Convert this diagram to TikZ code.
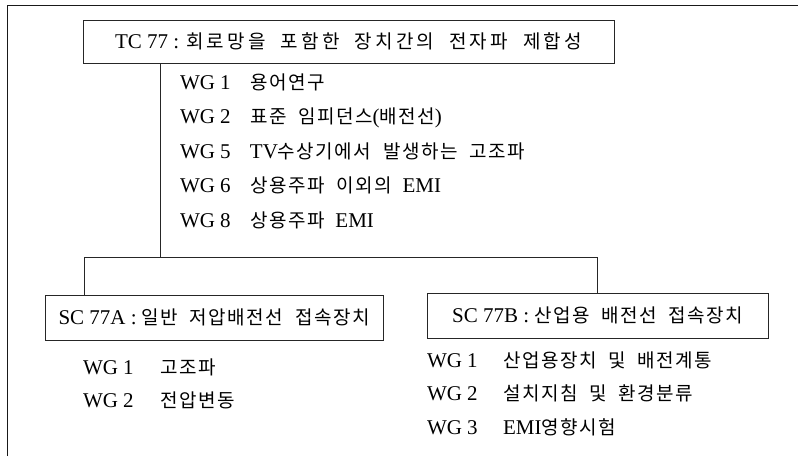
\documentclass[tikz,border=0pt]{standalone}
\usepackage{fontspec}
\setmainfont{Liberation Serif}
\newfontfamily\krfont[WordSpace=2,LetterSpace=8]{Noto Sans CJK KR}
\newfontfamily\krwide[WordSpace=2,LetterSpace=17]{Noto Sans CJK KR}
\newcommand\K[1]{{\krfont\fontsize{19}{22}\selectfont #1}}
\newcommand\KW[1]{{\krwide\fontsize{19}{22}\selectfont #1}}
\begin{document}
\begin{tikzpicture}[x=1pt,y=-1pt,
  every node/.style={inner sep=0pt,outer sep=0pt,font=\fontsize{21}{23}\selectfont},
  boxnode/.style={draw=black!85,line width=0.9pt,anchor=center},
  item/.style={anchor=base west},
  conn/.style={draw=black!85,line width=0.9pt},
  frame/.style={draw=black!90,line width=1.4pt}]
\useasboundingbox (0,0) rectangle (798,456);
\draw[frame] (7.5,456) -- (7.5,5.5) -- (798,5.5);
\node[boxnode,minimum width=531pt,minimum height=43pt] (tc) at (348.5,41.5)
  {TC 77 : \KW{회로망을 포함한 장치간의 전자파 제합성}\hspace{8pt}};
\node[item] (w1) at (180,89) {\makebox[70pt][l]{WG 1}\K{용어연구}};
\node[item] (w2) at (180,123.5) {\makebox[70pt][l]{WG 2}\K{표준 임피던스}(\K{배전선})};
\node[item] (w5) at (180,158) {\makebox[70pt][l]{WG 5}TV\K{수상기에서 발생하는 고조파}};
\node[item] (w6) at (180,192.5) {\makebox[70pt][l]{WG 6}\K{상용주파 이외의}\hspace{11pt}EMI};
\node[item] (w8) at (180,227) {\makebox[70pt][l]{WG 8}\K{상용주파}\hspace{11pt}EMI};
\node[boxnode,minimum width=338pt,minimum height=45pt] (sca) at (214,317.5)
  {SC 77A : \K{일반 저압배전선 접속장치}};
\node[boxnode,minimum width=341pt,minimum height=45pt] (scb) at (597.5,315.5)
  {SC 77B : \K{산업용 배전선 접속장치}};
\node[item] (a1) at (83,374) {\makebox[77pt][l]{WG 1}\K{고조파}};
\node[item] (a2) at (83,407) {\makebox[77pt][l]{WG 2}\K{전압변동}};
\node[item] (b1) at (427,367) {\makebox[76pt][l]{WG 1}\K{산업용장치 및 배전계통}};
\node[item] (b2) at (427,400) {\makebox[76pt][l]{WG 2}\K{설치지침 및 환경분류}};
\node[item] (b3) at (427,434) {\makebox[76pt][l]{WG 3}EMI\K{영향시험}};
\coordinate (jt) at (160,257);
\coordinate (ja) at (84,257);
\coordinate (jb) at (597,257);
\draw[conn] (tc.south -| jt) -- (jt);
\draw[conn] (sca.north -| ja) -- (ja) -- (jb) -- (scb.north -| jb);
\end{tikzpicture}
\end{document}
